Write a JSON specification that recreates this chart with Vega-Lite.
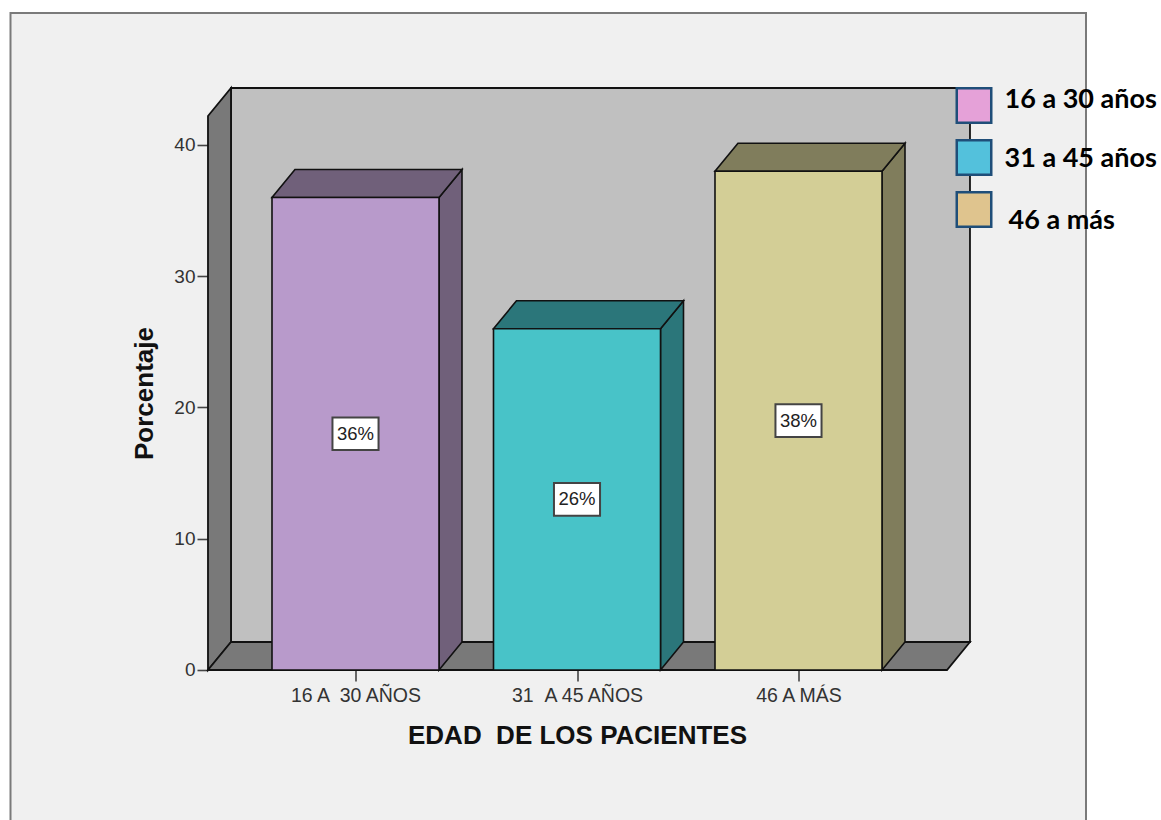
{
  "$schema": "https://vega.github.io/schema/vega-lite/v6.json",
  "autosize": "none",
  "width": 1075.5,
  "height": 808,
  "padding": {"left": 10.5, "top": 13, "right": 75, "bottom": 0},
  "background": "#ffffff",
  "view": {"fill": "#f0f0f0", "stroke": "#7a7a7a", "strokeWidth": 2},
  "config": {"font": "Liberation Sans"},
  "params": [
    {"name": "dx", "value": 0.1038},
    {"name": "dy", "value": 2.133},
    {"name": "mitadBarra", "value": 0.377},
    {"name": "mitadCajaX", "value": 0.104},
    {"name": "mitadCajaY", "value": 1.24}
  ],
  "datasets": {
    "barras": [
      {"edad": "16 A  30 AÑOS", "orden": 1, "porcentaje": 36, "grupo": "16 a 30 años"},
      {"edad": "31  A 45 AÑOS", "orden": 2, "porcentaje": 26, "grupo": "31 a 45 años"},
      {"edad": "46 A MÁS", "orden": 3, "porcentaje": 38, "grupo": "46 a más"}
    ],
    "caja": [{"desde": 0.334, "hasta": 3.6704, "techo": 42.21}]
  },
  "encoding": {
    "x": {
      "type": "quantitative",
      "scale": {"domain": [-0.5576, 4.298], "nice": false, "zero": false}
    },
    "y": {
      "type": "quantitative",
      "scale": {"domain": [-11.505, 50.057], "nice": false, "zero": false}
    }
  },
  "layer": [
    {
      "description": "Pared del fondo",
      "data": {"name": "caja"},
      "transform": [
        {"calculate": "datum.desde + dx", "as": "xa"},
        {"calculate": "datum.hasta + dx", "as": "xb"},
        {"calculate": "dy", "as": "ya"},
        {"calculate": "datum.techo + dy", "as": "yb"}
      ],
      "mark": {"type": "rect", "fill": "#c0c0c0", "stroke": "#111111", "strokeWidth": 1.8},
      "encoding": {
        "x": {
          "field": "xa",
          "axis": {
            "orient": "bottom",
            "offset": -151,
            "domain": false,
            "grid": false,
            "values": [1, 2, 3],
            "labelExpr": "datum.value == 1 ? '16 A \u00a030 AÑOS' : datum.value == 2 ? '31 \u00a0A 45 AÑOS' : '46 A MÁS'",
            "labelFont": "Liberation Sans",
            "labelFontSize": 19.5,
            "labelColor": "#333333",
            "labelPadding": 5,
            "tickSize": 11,
            "tickWidth": 1.6,
            "tickColor": "#444444",
            "title": "EDAD \u00a0DE LOS PACIENTES",
            "titleFont": "Liberation Sans",
            "titleFontSize": 26,
            "titleFontWeight": "bold",
            "titleColor": "#111111",
            "titlePadding": 18,
            "titleX": 566.5
          }
        },
        "x2": {"field": "xb"},
        "y": {
          "field": "ya",
          "axis": {
            "orient": "left",
            "offset": -197.5,
            "domain": false,
            "grid": false,
            "values": [0, 10, 20, 30, 40],
            "labelFont": "Liberation Sans",
            "labelFontSize": 19,
            "labelColor": "#333333",
            "labelPadding": 2,
            "tickSize": 11,
            "tickWidth": 1.6,
            "tickColor": "#444444",
            "title": "Porcentaje",
            "titleFont": "Liberation Sans",
            "titleFontSize": 26,
            "titleFontWeight": "bold",
            "titleColor": "#111111",
            "titlePadding": 16,
            "titleY": 380
          }
        },
        "y2": {"field": "yb"}
      }
    },
    {
      "description": "Pared lateral izquierda",
      "data": {"name": "caja"},
      "transform": [
        {"calculate": "[0, 1]", "as": "t"},
        {"flatten": ["t"]},
        {"calculate": "datum.desde + datum.t * dx", "as": "xa"},
        {"calculate": "datum.t * dy", "as": "ya"},
        {"calculate": "datum.techo + datum.t * dy", "as": "yb"}
      ],
      "mark": {"type": "area", "orient": "vertical", "fill": "#797979", "stroke": "#111111", "strokeWidth": 1.8},
      "encoding": {
        "x": {"field": "xa"},
        "y": {"field": "ya"},
        "y2": {"field": "yb"}
      }
    },
    {
      "description": "Suelo",
      "data": {"name": "caja"},
      "transform": [
        {"calculate": "[0, 1]", "as": "t"},
        {"flatten": ["t"]},
        {"calculate": "datum.desde + datum.t * dx", "as": "xa"},
        {"calculate": "datum.hasta + datum.t * dx", "as": "xb"},
        {"calculate": "datum.t * dy", "as": "ya"}
      ],
      "mark": {"type": "area", "orient": "horizontal", "fill": "#797979", "stroke": "#111111", "strokeWidth": 1.8},
      "encoding": {
        "x": {"field": "xa"},
        "x2": {"field": "xb"},
        "y": {"field": "ya"}
      }
    },
    {
      "description": "Cara lateral de cada barra",
      "data": {"name": "barras"},
      "transform": [
        {"calculate": "[0, 1]", "as": "t"},
        {"flatten": ["t"]},
        {"calculate": "datum.orden + mitadBarra + datum.t * dx", "as": "xa"},
        {"calculate": "datum.t * dy", "as": "ya"},
        {"calculate": "datum.porcentaje + datum.t * dy", "as": "yb"}
      ],
      "mark": {"type": "area", "orient": "vertical", "stroke": "#111111", "strokeWidth": 1.6},
      "encoding": {
        "x": {"field": "xa"},
        "y": {"field": "ya"},
        "y2": {"field": "yb"},
        "fill": {
          "field": "edad",
          "type": "nominal",
          "scale": {"domain": ["16 A  30 AÑOS", "31  A 45 AÑOS", "46 A MÁS"], "range": ["#70607a", "#2b767a", "#807d5c"]},
          "legend": null
        }
      }
    },
    {
      "description": "Cara superior de cada barra",
      "data": {"name": "barras"},
      "transform": [
        {"calculate": "[0, 1]", "as": "t"},
        {"flatten": ["t"]},
        {"calculate": "datum.orden - mitadBarra + datum.t * dx", "as": "xa"},
        {"calculate": "datum.orden + mitadBarra + datum.t * dx", "as": "xb"},
        {"calculate": "datum.porcentaje + datum.t * dy", "as": "ya"}
      ],
      "mark": {"type": "area", "orient": "horizontal", "stroke": "#111111", "strokeWidth": 1.6},
      "encoding": {
        "x": {"field": "xa"},
        "x2": {"field": "xb"},
        "y": {"field": "ya"},
        "fill": {
          "field": "edad",
          "type": "nominal",
          "scale": {"domain": ["16 A  30 AÑOS", "31  A 45 AÑOS", "46 A MÁS"], "range": ["#70607a", "#2b767a", "#807d5c"]},
          "legend": null
        }
      }
    },
    {
      "description": "Cara frontal de cada barra",
      "data": {"name": "barras"},
      "transform": [
        {"calculate": "datum.orden - mitadBarra", "as": "xa"},
        {"calculate": "datum.orden + mitadBarra", "as": "xb"},
        {"calculate": "0", "as": "ya"}
      ],
      "mark": {"type": "rect", "stroke": "#111111", "strokeWidth": 1.6},
      "encoding": {
        "x": {"field": "xa"},
        "x2": {"field": "xb"},
        "y": {"field": "ya"},
        "y2": {"field": "porcentaje"},
        "fill": {
          "field": "edad",
          "type": "nominal",
          "scale": {"domain": ["16 A  30 AÑOS", "31  A 45 AÑOS", "46 A MÁS"], "range": ["#b89acb", "#48c3c8", "#d3ce96"]},
          "legend": null
        }
      }
    },
    {
      "description": "Recuadro blanco de la etiqueta",
      "data": {"name": "barras"},
      "transform": [
        {"calculate": "datum.orden - mitadCajaX", "as": "xa"},
        {"calculate": "datum.orden + mitadCajaX", "as": "xb"},
        {"calculate": "datum.porcentaje / 2 - mitadCajaY", "as": "ya"},
        {"calculate": "datum.porcentaje / 2 + mitadCajaY", "as": "yb"}
      ],
      "mark": {"type": "rect", "fill": "#ffffff", "stroke": "#444444", "strokeWidth": 2},
      "encoding": {
        "x": {"field": "xa"},
        "x2": {"field": "xb"},
        "y": {"field": "ya"},
        "y2": {"field": "yb"}
      }
    },
    {
      "description": "Etiqueta de porcentaje",
      "data": {"name": "barras"},
      "transform": [
        {"calculate": "datum.porcentaje / 2", "as": "medio"},
        {"calculate": "datum.porcentaje + '%'", "as": "etiqueta"}
      ],
      "mark": {"type": "text", "font": "Liberation Sans", "fontSize": 18.5, "color": "#222222", "align": "center", "baseline": "middle"},
      "encoding": {
        "x": {"field": "orden"},
        "y": {"field": "medio"},
        "text": {"field": "etiqueta"}
      }
    },
    {
      "description": "Leyenda de grupos de edad",
      "data": {"name": "barras"},
      "mark": {"type": "point", "filled": true, "size": 0},
      "encoding": {
        "x": {"field": "orden"},
        "y": {"field": "porcentaje"},
        "fill": {
          "field": "grupo",
          "type": "nominal",
          "scale": {"domain": ["16 a 30 años", "31 a 45 años", "46 a más"], "range": ["#e5a1d8", "#53c1dc", "#dfc48e"]},
          "legend": {
            "orient": "none",
            "legendX": 945,
            "legendY": 74,
            "title": null,
            "symbolType": "square",
            "symbolSize": 1190,
            "symbolStrokeColor": "#1f4e79",
            "symbolStrokeWidth": 2.5,
            "symbolOpacity": 1,
            "labelFont": "Lato",
            "labelFontWeight": "bold",
            "labelFontSize": 27,
            "labelColor": "#000000",
            "labelOffset": 12,
            "labelLimit": 300,
            "rowPadding": 7,
            "encode": {
              "labels": {
                "update": {
                  "dx": {"signal": "datum.value == '46 a más' ? 4 : 0"},
                  "dy": {"signal": "datum.value == '16 a 30 años' ? -6 : datum.value == '46 a más' ? 11 : 1"}
                }
              }
            }
          }
        }
      }
    }
  ],
  "resolve": {"scale": {"fill": "independent"}}
}
